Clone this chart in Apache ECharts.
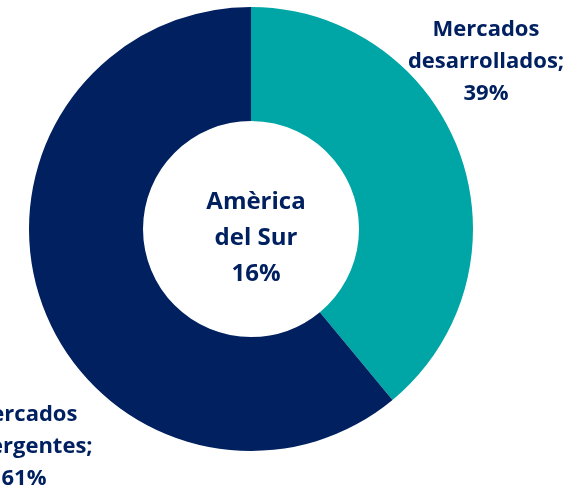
<!DOCTYPE html>
<html>
<head>
<meta charset="utf-8">
<script src="https://cdn.jsdelivr.net/npm/echarts@6/dist/echarts.min.js"></script>
<style>
  html, body { margin: 0; padding: 0; background: #fff; }
  #chart { width: 585px; height: 490px; }
</style>
</head>
<body>
<div id="chart"></div>
<script>
// datos del gráfico
var categories = ['Mercados desarrollados', 'Mercados emergentes'];
var values = [39, 61];
var colors = ['#00A6A6', '#002060'];
var centerText = ['Amèrica', 'del Sur', '16%'];

var chart = echarts.init(document.getElementById('chart'));

var labelPos = [
  { x: 486, y: 62 },
  { x: 24, y: 447 }
];

chart.setOption({
  animation: false,
  textStyle: { fontFamily: 'Open Sans' },
  graphic: [{
    type: 'text',
    x: 256,
    y: 238,
    style: {
      text: centerText.join('\n'),
      fill: '#002060',
      font: 'bold 24px "Open Sans"',
      lineHeight: 36,
      align: 'center',
      verticalAlign: 'middle'
    }
  }],
  series: [{
    type: 'pie',
    center: [251, 229],
    radius: [108, 222],
    startAngle: 90,
    clockwise: true,
    silent: true,
    avoidLabelOverlap: false,
    label: {
      show: true,
      position: 'outside',
      overflow: 'none',
      formatter: function (p) {
        return p.name.replace(' ', '\n') + ';\n' + p.value + '%';
      },
      color: '#002060',
      fontWeight: 'bold',
      fontSize: 22,
      fontFamily: 'Open Sans',
      lineHeight: 32,
      align: 'center'
    },
    labelLine: { show: false },
    labelLayout: function (p) {
      var pos = labelPos[p.dataIndex];
      return { x: pos.x, y: pos.y, align: 'center', verticalAlign: 'middle' };
    },
    itemStyle: { borderWidth: 0 },
    data: categories.map(function (c, i) {
      return { name: c, value: values[i], itemStyle: { color: colors[i] } };
    })
  }]
});
</script>
</body>
</html>
